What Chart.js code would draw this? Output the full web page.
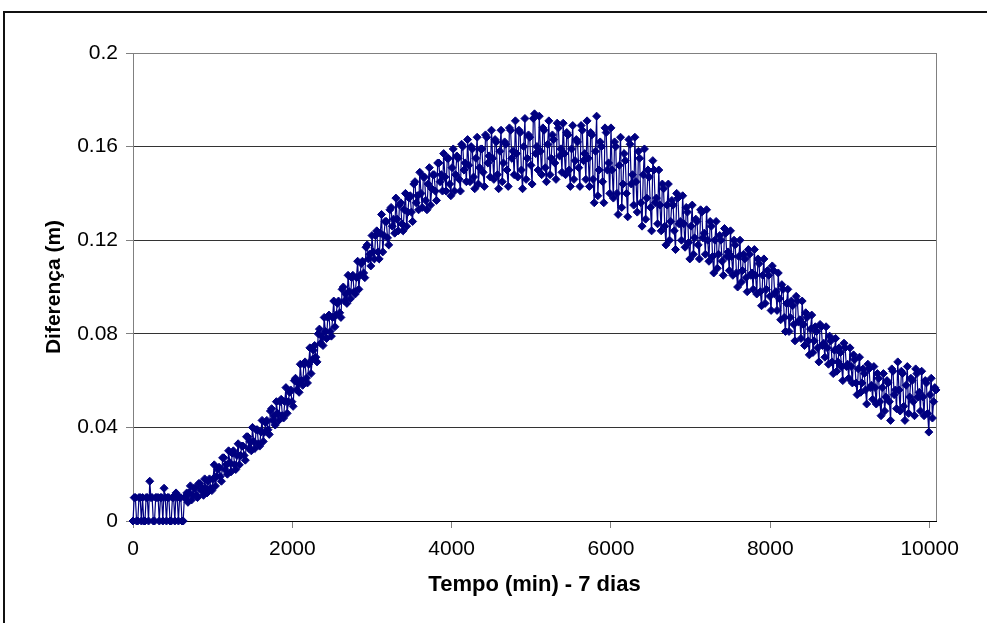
<!DOCTYPE html>
<html>
<head>
<style>
    body { margin: 0; background: #fff; }
    canvas { display: block; }
</style>
</head>
<body>
    <canvas id="grafico" width="987" height="623"></canvas>
    <script src="https://cdn.jsdelivr.net/npm/chart.js"></script>
    <script>
        // tempo em minutos, leitura a cada 15 min (7 dias = 10080 min)
        const tempo = [
            0, 15, 30, 45, 60, 75, 90, 105, 120, 135, 150, 165, 180, 195, 210, 225, 240, 255, 270, 285,
            300, 315, 330, 345, 360, 375, 390, 405, 420, 435, 450, 465, 480, 495, 510, 525, 540, 555, 570, 585,
            600, 615, 630, 645, 660, 675, 690, 705, 720, 735, 750, 765, 780, 795, 810, 825, 840, 855, 870, 885,
            900, 915, 930, 945, 960, 975, 990, 1005, 1020, 1035, 1050, 1065, 1080, 1095, 1110, 1125, 1140, 1155, 1170, 1185,
            1200, 1215, 1230, 1245, 1260, 1275, 1290, 1305, 1320, 1335, 1350, 1365, 1380, 1395, 1410, 1425, 1440, 1455, 1470, 1485,
            1500, 1515, 1530, 1545, 1560, 1575, 1590, 1605, 1620, 1635, 1650, 1665, 1680, 1695, 1710, 1725, 1740, 1755, 1770, 1785,
            1800, 1815, 1830, 1845, 1860, 1875, 1890, 1905, 1920, 1935, 1950, 1965, 1980, 1995, 2010, 2025, 2040, 2055, 2070, 2085,
            2100, 2115, 2130, 2145, 2160, 2175, 2190, 2205, 2220, 2235, 2250, 2265, 2280, 2295, 2310, 2325, 2340, 2355, 2370, 2385,
            2400, 2415, 2430, 2445, 2460, 2475, 2490, 2505, 2520, 2535, 2550, 2565, 2580, 2595, 2610, 2625, 2640, 2655, 2670, 2685,
            2700, 2715, 2730, 2745, 2760, 2775, 2790, 2805, 2820, 2835, 2850, 2865, 2880, 2895, 2910, 2925, 2940, 2955, 2970, 2985,
            3000, 3015, 3030, 3045, 3060, 3075, 3090, 3105, 3120, 3135, 3150, 3165, 3180, 3195, 3210, 3225, 3240, 3255, 3270, 3285,
            3300, 3315, 3330, 3345, 3360, 3375, 3390, 3405, 3420, 3435, 3450, 3465, 3480, 3495, 3510, 3525, 3540, 3555, 3570, 3585,
            3600, 3615, 3630, 3645, 3660, 3675, 3690, 3705, 3720, 3735, 3750, 3765, 3780, 3795, 3810, 3825, 3840, 3855, 3870, 3885,
            3900, 3915, 3930, 3945, 3960, 3975, 3990, 4005, 4020, 4035, 4050, 4065, 4080, 4095, 4110, 4125, 4140, 4155, 4170, 4185,
            4200, 4215, 4230, 4245, 4260, 4275, 4290, 4305, 4320, 4335, 4350, 4365, 4380, 4395, 4410, 4425, 4440, 4455, 4470, 4485,
            4500, 4515, 4530, 4545, 4560, 4575, 4590, 4605, 4620, 4635, 4650, 4665, 4680, 4695, 4710, 4725, 4740, 4755, 4770, 4785,
            4800, 4815, 4830, 4845, 4860, 4875, 4890, 4905, 4920, 4935, 4950, 4965, 4980, 4995, 5010, 5025, 5040, 5055, 5070, 5085,
            5100, 5115, 5130, 5145, 5160, 5175, 5190, 5205, 5220, 5235, 5250, 5265, 5280, 5295, 5310, 5325, 5340, 5355, 5370, 5385,
            5400, 5415, 5430, 5445, 5460, 5475, 5490, 5505, 5520, 5535, 5550, 5565, 5580, 5595, 5610, 5625, 5640, 5655, 5670, 5685,
            5700, 5715, 5730, 5745, 5760, 5775, 5790, 5805, 5820, 5835, 5850, 5865, 5880, 5895, 5910, 5925, 5940, 5955, 5970, 5985,
            6000, 6015, 6030, 6045, 6060, 6075, 6090, 6105, 6120, 6135, 6150, 6165, 6180, 6195, 6210, 6225, 6240, 6255, 6270, 6285,
            6300, 6315, 6330, 6345, 6360, 6375, 6390, 6405, 6420, 6435, 6450, 6465, 6480, 6495, 6510, 6525, 6540, 6555, 6570, 6585,
            6600, 6615, 6630, 6645, 6660, 6675, 6690, 6705, 6720, 6735, 6750, 6765, 6780, 6795, 6810, 6825, 6840, 6855, 6870, 6885,
            6900, 6915, 6930, 6945, 6960, 6975, 6990, 7005, 7020, 7035, 7050, 7065, 7080, 7095, 7110, 7125, 7140, 7155, 7170, 7185,
            7200, 7215, 7230, 7245, 7260, 7275, 7290, 7305, 7320, 7335, 7350, 7365, 7380, 7395, 7410, 7425, 7440, 7455, 7470, 7485,
            7500, 7515, 7530, 7545, 7560, 7575, 7590, 7605, 7620, 7635, 7650, 7665, 7680, 7695, 7710, 7725, 7740, 7755, 7770, 7785,
            7800, 7815, 7830, 7845, 7860, 7875, 7890, 7905, 7920, 7935, 7950, 7965, 7980, 7995, 8010, 8025, 8040, 8055, 8070, 8085,
            8100, 8115, 8130, 8145, 8160, 8175, 8190, 8205, 8220, 8235, 8250, 8265, 8280, 8295, 8310, 8325, 8340, 8355, 8370, 8385,
            8400, 8415, 8430, 8445, 8460, 8475, 8490, 8505, 8520, 8535, 8550, 8565, 8580, 8595, 8610, 8625, 8640, 8655, 8670, 8685,
            8700, 8715, 8730, 8745, 8760, 8775, 8790, 8805, 8820, 8835, 8850, 8865, 8880, 8895, 8910, 8925, 8940, 8955, 8970, 8985,
            9000, 9015, 9030, 9045, 9060, 9075, 9090, 9105, 9120, 9135, 9150, 9165, 9180, 9195, 9210, 9225, 9240, 9255, 9270, 9285,
            9300, 9315, 9330, 9345, 9360, 9375, 9390, 9405, 9420, 9435, 9450, 9465, 9480, 9495, 9510, 9525, 9540, 9555, 9570, 9585,
            9600, 9615, 9630, 9645, 9660, 9675, 9690, 9705, 9720, 9735, 9750, 9765, 9780, 9795, 9810, 9825, 9840, 9855, 9870, 9885,
            9900, 9915, 9930, 9945, 9960, 9975, 9990, 10005, 10020, 10035, 10050, 10065, 10080
        ]

        // diferença em metros
        const diferenca = [
            0, 0.01, 0.01, 0, 0, 0.01, 0.01, 0, 0.01, 0, 0, 0.01, 0.01, 0, 0.017, 0.01, 0.01, 0, 0, 0.01,
            0.01, 0.01, 0, 0.01, 0.01, 0, 0.014, 0.01, 0, 0.01, 0.01, 0, 0, 0.01, 0.01, 0, 0.012, 0.01, 0, 0.01,
            0.01, 0, 0, 0.01, 0.01, 0.012, 0.008, 0.012, 0.015, 0.009, 0.011, 0.014, 0.014, 0.011, 0.01, 0.016, 0.016, 0.013, 0.014, 0.011,
            0.018, 0.014, 0.012, 0.017, 0.018, 0.014, 0.013, 0.018, 0.024, 0.015, 0.019, 0.022, 0.023, 0.019, 0.017, 0.027, 0.027, 0.022, 0.024, 0.02,
            0.03, 0.025, 0.021, 0.029, 0.03, 0.024, 0.022, 0.028, 0.033, 0.024, 0.028, 0.032, 0.032, 0.028, 0.026, 0.036, 0.036, 0.031, 0.034, 0.03,
            0.04, 0.034, 0.031, 0.039, 0.039, 0.033, 0.032, 0.038, 0.043, 0.034, 0.038, 0.042, 0.043, 0.039, 0.037, 0.047, 0.048, 0.043, 0.045, 0.041,
            0.051, 0.046, 0.043, 0.051, 0.052, 0.045, 0.044, 0.051, 0.057, 0.046, 0.051, 0.055, 0.056, 0.051, 0.049, 0.06, 0.061, 0.056, 0.059, 0.055,
            0.067, 0.06, 0.058, 0.067, 0.068, 0.061, 0.059, 0.067, 0.074, 0.063, 0.069, 0.073, 0.075, 0.07, 0.068, 0.08, 0.082, 0.076, 0.079, 0.075,
            0.087, 0.081, 0.078, 0.087, 0.088, 0.081, 0.079, 0.087, 0.094, 0.083, 0.088, 0.093, 0.094, 0.089, 0.087, 0.099, 0.1, 0.094, 0.097, 0.093,
            0.105, 0.098, 0.095, 0.104, 0.105, 0.098, 0.097, 0.104, 0.111, 0.099, 0.105, 0.11, 0.111, 0.106, 0.104, 0.117, 0.118, 0.112, 0.114, 0.109,
            0.122, 0.115, 0.112, 0.122, 0.124, 0.115, 0.112, 0.123, 0.131, 0.115, 0.122, 0.128, 0.128, 0.121, 0.118, 0.133, 0.134, 0.126, 0.129, 0.123,
            0.138, 0.129, 0.124, 0.135, 0.136, 0.127, 0.124, 0.133, 0.14, 0.126, 0.132, 0.138, 0.139, 0.132, 0.128, 0.144, 0.145, 0.136, 0.139, 0.133,
            0.149, 0.14, 0.134, 0.147, 0.147, 0.137, 0.133, 0.144, 0.151, 0.135, 0.142, 0.148, 0.148, 0.141, 0.137, 0.153, 0.153, 0.145, 0.148, 0.141,
            0.157, 0.147, 0.141, 0.155, 0.155, 0.144, 0.139, 0.151, 0.159, 0.141, 0.148, 0.156, 0.155, 0.146, 0.141, 0.161, 0.16, 0.15, 0.153, 0.145,
            0.163, 0.152, 0.145, 0.16, 0.159, 0.147, 0.142, 0.155, 0.164, 0.144, 0.151, 0.159, 0.159, 0.149, 0.143, 0.165, 0.164, 0.153, 0.156, 0.147,
            0.167, 0.155, 0.146, 0.163, 0.162, 0.148, 0.142, 0.158, 0.167, 0.145, 0.153, 0.162, 0.161, 0.15, 0.143, 0.168, 0.167, 0.155, 0.158, 0.148,
            0.171, 0.157, 0.147, 0.167, 0.166, 0.15, 0.142, 0.16, 0.172, 0.146, 0.155, 0.165, 0.164, 0.152, 0.144, 0.172, 0.174, 0.157, 0.16, 0.15,
            0.173, 0.158, 0.148, 0.168, 0.167, 0.151, 0.145, 0.161, 0.171, 0.148, 0.155, 0.165, 0.163, 0.153, 0.146, 0.17, 0.168, 0.156, 0.159, 0.149,
            0.17, 0.157, 0.148, 0.166, 0.165, 0.15, 0.143, 0.159, 0.169, 0.146, 0.154, 0.163, 0.162, 0.151, 0.143, 0.169, 0.167, 0.154, 0.157, 0.146,
            0.171, 0.155, 0.143, 0.166, 0.165, 0.146, 0.136, 0.158, 0.173, 0.139, 0.15, 0.162, 0.16, 0.145, 0.136, 0.168, 0.166, 0.15, 0.153, 0.14,
            0.168, 0.15, 0.138, 0.162, 0.16, 0.14, 0.131, 0.152, 0.164, 0.134, 0.144, 0.157, 0.154, 0.14, 0.13, 0.163, 0.161, 0.144, 0.148, 0.135,
            0.164, 0.145, 0.132, 0.158, 0.155, 0.136, 0.126, 0.148, 0.159, 0.129, 0.138, 0.15, 0.147, 0.134, 0.124, 0.154, 0.15, 0.136, 0.138, 0.127,
            0.15, 0.135, 0.124, 0.144, 0.142, 0.126, 0.118, 0.135, 0.144, 0.12, 0.128, 0.137, 0.135, 0.124, 0.116, 0.14, 0.138, 0.127, 0.128, 0.12,
            0.139, 0.127, 0.117, 0.134, 0.132, 0.119, 0.112, 0.126, 0.135, 0.114, 0.121, 0.129, 0.128, 0.118, 0.112, 0.133, 0.132, 0.121, 0.123, 0.114,
            0.133, 0.12, 0.111, 0.128, 0.126, 0.113, 0.106, 0.12, 0.128, 0.108, 0.114, 0.122, 0.12, 0.111, 0.105, 0.125, 0.123, 0.113, 0.115, 0.107,
            0.124, 0.113, 0.105, 0.12, 0.118, 0.106, 0.1, 0.113, 0.12, 0.102, 0.107, 0.114, 0.112, 0.104, 0.098, 0.116, 0.114, 0.105, 0.106, 0.099,
            0.116, 0.105, 0.097, 0.112, 0.11, 0.098, 0.092, 0.105, 0.112, 0.093, 0.099, 0.107, 0.105, 0.096, 0.09, 0.109, 0.107, 0.097, 0.098, 0.09,
            0.106, 0.095, 0.086, 0.101, 0.099, 0.087, 0.081, 0.093, 0.099, 0.081, 0.087, 0.094, 0.092, 0.084, 0.077, 0.096, 0.094, 0.085, 0.086, 0.078,
            0.094, 0.084, 0.075, 0.089, 0.087, 0.077, 0.071, 0.082, 0.088, 0.072, 0.077, 0.083, 0.081, 0.074, 0.068, 0.084, 0.083, 0.075, 0.076, 0.07,
            0.083, 0.074, 0.067, 0.079, 0.077, 0.068, 0.063, 0.073, 0.078, 0.064, 0.068, 0.074, 0.072, 0.066, 0.06, 0.076, 0.074, 0.066, 0.067, 0.061,
            0.074, 0.066, 0.059, 0.071, 0.069, 0.059, 0.054, 0.065, 0.07, 0.055, 0.059, 0.065, 0.063, 0.056, 0.05, 0.067, 0.065, 0.057, 0.058, 0.052,
            0.066, 0.057, 0.05, 0.063, 0.061, 0.051, 0.045, 0.057, 0.063, 0.047, 0.053, 0.06, 0.059, 0.051, 0.043, 0.065, 0.064, 0.054, 0.056, 0.048,
            0.068, 0.056, 0.047, 0.064, 0.063, 0.049, 0.043, 0.058, 0.066, 0.046, 0.053, 0.061, 0.06, 0.051, 0.045, 0.065, 0.063, 0.053, 0.055, 0.047,
            0.064, 0.053, 0.045, 0.06, 0.059, 0.046, 0.038, 0.054, 0.061, 0.044, 0.051, 0.057, 0.056
        ]

        const ticksX = [0, 2000, 4000, 6000, 8000, 10000]
        const ticksY = [0, 0.04, 0.08, 0.12, 0.16, 0.2]

        const fonte = 'Arial, "Liberation Sans", sans-serif'
        const azul = '#000080'
        const cinza = '#808080'

        const pontos = tempo.map((t, i) => ({ x: t, y: diferenca[i] }))

        const moldura = {
            id: 'moldura',
            beforeDatasetsDraw(chart) {
                const { ctx, chartArea } = chart
                ctx.save()
                ctx.strokeStyle = cinza
                ctx.lineWidth = 1
                ctx.beginPath()
                ctx.moveTo(Math.round(chartArea.right) + 0.5, chartArea.top)
                ctx.lineTo(Math.round(chartArea.right) + 0.5, chartArea.bottom)
                ctx.stroke()
                ctx.restore()
            },
            afterDraw(chart) {
                const ctx = chart.ctx
                ctx.save()
                ctx.fillStyle = '#111'
                ctx.fillRect(3, 11, chart.width - 3, 2)
                ctx.fillRect(3, 11, 2, chart.height - 11)
                ctx.restore()
            }
        }

        new Chart(document.getElementById('grafico'), {
            type: 'line',
            data: {
                datasets: [{
                    data: pontos,
                    borderColor: azul,
                    backgroundColor: azul,
                    borderWidth: 1.2,
                    pointStyle: 'rectRot',
                    pointRadius: 4,
                    pointBorderWidth: 1,
                    pointBorderColor: azul,
                    pointBackgroundColor: azul,
                    tension: 0,
                    clip: false
                }]
            },
            options: {
                responsive: false,
                animation: false,
                layout: { padding: { top: 53, right: 51, bottom: 0, left: 0 } },
                plugins: {
                    legend: { display: false },
                    tooltip: { enabled: false }
                },
                scales: {
                    x: {
                        type: 'linear',
                        min: 0,
                        max: 10080,
                        afterFit: (s) => { s.height = 102 },
                        afterBuildTicks: (s) => { s.ticks = ticksX.map(v => ({ value: v })) },
                        grid: { drawOnChartArea: false, drawTicks: true, tickLength: 7, tickColor: cinza },
                        border: { color: '#000', width: 1 },
                        ticks: {
                            color: '#000',
                            padding: 9,
                            maxRotation: 0,
                            font: { family: fonte, size: 21 },
                            callback: (v) => String(v)
                        },
                        title: {
                            display: true,
                            text: 'Tempo (min) - 7 dias',
                            color: '#000',
                            font: { family: fonte, size: 22, weight: 'bold' },
                            padding: { top: 0, bottom: 25 }
                        }
                    },
                    y: {
                        min: 0,
                        max: 0.2,
                        afterFit: (s) => { s.width = 133 },
                        afterBuildTicks: (s) => { s.ticks = ticksY.map(v => ({ value: v })) },
                        grid: {
                            color: (c) => c.tick.value === 0.2 ? cinza : (c.tick.value === 0 ? 'rgba(0,0,0,0)' : '#333'),
                            tickLength: 7,
                            tickColor: cinza
                        },
                        border: { color: cinza, width: 1 },
                        ticks: {
                            color: '#000',
                            padding: 8,
                            font: { family: fonte, size: 21 },
                            callback: (v) => String(v)
                        },
                        title: {
                            display: true,
                            text: 'Diferença (m)',
                            color: '#000',
                            font: { family: fonte, size: 21, weight: 'bold' },
                            padding: { top: 42, bottom: 0 }
                        }
                    }
                }
            },
            plugins: [moldura]
        })
    </script>
</body>
</html>
